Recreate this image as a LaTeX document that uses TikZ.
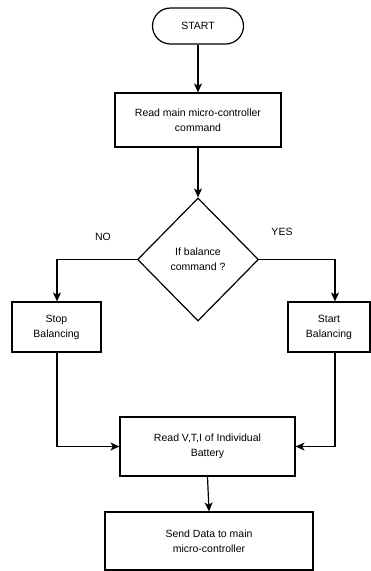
\documentclass[tikz,border=0pt]{standalone}
\usepackage{fontspec}
\setmainfont{Liberation Sans}
\usetikzlibrary{shapes.geometric,arrows.meta}
\begin{document}
\begin{tikzpicture}[x=1pt,y=-1pt,
  every node/.style={font=\fontsize{10.5}{15}\selectfont},
  box/.style={draw,line width=1.2pt,align=center,inner sep=0pt},
  conn/.style={line width=1.2pt,-{Stealth[length=9pt,width=8pt,inset=2.5pt]}},
  plain/.style={line width=1.2pt}]
\useasboundingbox (0,0) rectangle (371,571);
\node[box,rounded corners=18pt,minimum width=91pt,minimum height=36pt] (start) at (198,26) {START};
\node[box,minimum width=166pt,minimum height=54pt] (read) at (198,120) {Read main micro-controller\\command};
\node[box,diamond,minimum width=121pt,minimum height=123pt] (dec) at (198,259.5) {If balance\\command ?};
\node[box,minimum width=89pt,minimum height=50pt] (stop) at (56.5,327) {Stop\\Balancing};
\node[box,minimum width=82pt,minimum height=50pt] (startb) at (329,327) {Start\\Balancing};
\node[box,minimum width=175pt,minimum height=59pt] (vti) at (207.5,446.5) {Read V,T,I of Individual\\Battery};
\node[box,minimum width=208pt,minimum height=58pt] (send) at (209,541) {Send Data to main\\micro-controller};
\node (no) at (103,237) {NO};
\node (yes) at (282,232) {YES};
\coordinate (nl) at (57,259.5);
\coordinate (nr) at (335,259.5);
\coordinate (bl) at (57,446.5);
\coordinate (br) at (335,446.5);
\draw[conn] (start.south) -- (read.north);
\draw[conn] (read.south) -- (dec.north);
\draw[conn] (dec.west) -- (nl) -- (nl |- stop.north);
\draw[conn] (dec.east) -- (nr) -- (nr |- startb.north);
\draw[conn] (nl |- stop.south) -- (bl) -- (vti.west);
\draw[conn] (nr |- startb.south) -- (br) -- (vti.east);
\draw[conn] (vti.south) -- (send.north);
\end{tikzpicture}
\end{document}
